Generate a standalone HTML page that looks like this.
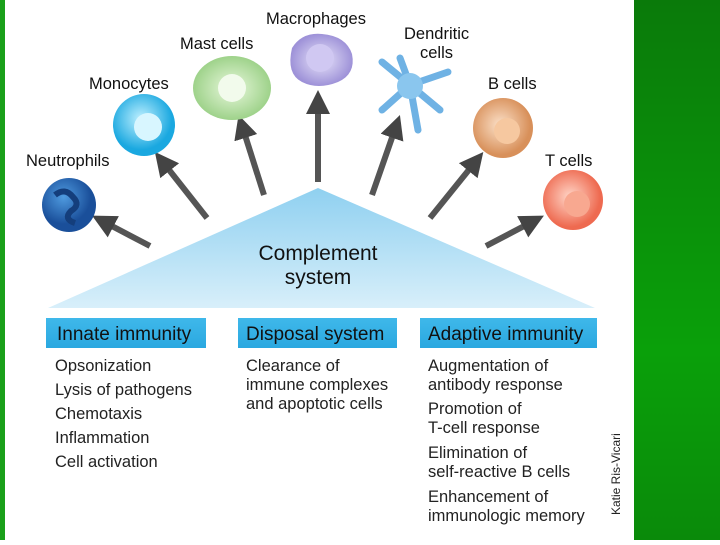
<!DOCTYPE html>
<html><head><style>
body{margin:0;width:720px;height:540px;overflow:hidden;background:#fff;font-family:"Liberation Sans",sans-serif;}
</style></head><body>
<svg width="720" height="540" xmlns="http://www.w3.org/2000/svg" font-family="Liberation Sans, sans-serif">
<defs>
<linearGradient id="tri" x1="0" y1="0" x2="0" y2="1"><stop offset="0" stop-color="#8fd0f0"/><stop offset="1" stop-color="#d8effa"/></linearGradient>
<linearGradient id="box" x1="0" y1="0" x2="0" y2="1"><stop offset="0" stop-color="#3fb8ea"/><stop offset="1" stop-color="#2aa8e0"/></linearGradient>
<linearGradient id="grn" x1="0" y1="0" x2="0" y2="1"><stop offset="0" stop-color="#0a7a0a"/><stop offset="0.65" stop-color="#0aa00a"/><stop offset="1" stop-color="#0a8a0a"/></linearGradient>
<marker id="ah" markerWidth="4" markerHeight="4" refX="1" refY="2" orient="auto"><path d="M0,0 L4,2 L0,4 Z" fill="#444"/></marker>
<radialGradient id="neu" cx="0.4" cy="0.35"><stop offset="0" stop-color="#4f9be0"/><stop offset="1" stop-color="#1a4f9a"/></radialGradient>
<radialGradient id="mono" cx="0.45" cy="0.4"><stop offset="0" stop-color="#bff0ff"/><stop offset="1" stop-color="#1aa8e0"/></radialGradient>
<radialGradient id="mast" cx="0.5" cy="0.5"><stop offset="0" stop-color="#e8f8dc"/><stop offset="1" stop-color="#9ed28a"/></radialGradient>
<radialGradient id="mac" cx="0.5" cy="0.5"><stop offset="0" stop-color="#e8e4fa"/><stop offset="1" stop-color="#9e92d8"/></radialGradient>
<radialGradient id="bc" cx="0.45" cy="0.45"><stop offset="0" stop-color="#fbe0c8"/><stop offset="1" stop-color="#d8905a"/></radialGradient>
<radialGradient id="tc" cx="0.45" cy="0.45"><stop offset="0" stop-color="#ffd6c8"/><stop offset="1" stop-color="#ee6a50"/></radialGradient>
</defs>
<rect x="0" y="0" width="5" height="540" fill="#1aa01a"/>
<rect x="634" y="0" width="86" height="540" fill="url(#grn)"/>
<polygon points="318,188 48,308 595,308" fill="url(#tri)"/>
<text x="318" y="260" font-size="21" text-anchor="middle" fill="#111">Complement</text>
<text x="318" y="284" font-size="21" text-anchor="middle" fill="#111">system</text>
<g stroke="#555" stroke-width="6" marker-end="url(#ah)">
<line x1="150" y1="246" x2="108" y2="224"/>
<line x1="207" y1="218" x2="166" y2="166"/>
<line x1="264" y1="195" x2="244" y2="132"/>
<line x1="318" y1="182" x2="318" y2="108"/>
<line x1="372" y1="195" x2="394" y2="132"/>
<line x1="430" y1="218" x2="472" y2="166"/>
<line x1="486" y1="246" x2="528" y2="224"/>
</g>
<circle cx="69" cy="205" r="27" fill="url(#neu)"/>
<path d="M55,195 q10,-8 18,2 q8,8 -2,14 q-8,8 4,12" stroke="#143e7c" stroke-width="6" fill="none"/>
<circle cx="144" cy="125" r="31" fill="url(#mono)"/>
<circle cx="148" cy="127" r="14" fill="#d8f6ff"/>
<ellipse cx="232" cy="88" rx="39" ry="32" fill="url(#mast)"/>
<circle cx="232" cy="88" r="14" fill="#f2fbec"/>
<path d="M292,48 q10,-16 30,-14 q24,2 30,20 q4,20 -14,28 q-20,8 -36,0 q-16,-8 -10,-34z" fill="url(#mac)"/>
<circle cx="320" cy="58" r="14" fill="#d0c8f2"/>
<g stroke="#6fb2e4" stroke-width="7" stroke-linecap="round"><line x1="410" y1="85" x2="382" y2="62"/><line x1="410" y1="85" x2="448" y2="72"/><line x1="410" y1="85" x2="382" y2="110"/><line x1="410" y1="85" x2="418" y2="130"/><line x1="410" y1="85" x2="440" y2="110"/><line x1="410" y1="85" x2="400" y2="58"/></g>
<circle cx="410" cy="86" r="13" fill="#8ac6ee"/>
<circle cx="503" cy="128" r="30" fill="url(#bc)"/>
<circle cx="507" cy="131" r="13" fill="#f6c8a0"/>
<circle cx="573" cy="200" r="30" fill="url(#tc)"/>
<circle cx="577" cy="204" r="13" fill="#f8a890"/>
<g font-size="16.5" fill="#111">
<text x="266" y="24">Macrophages</text>
<text x="180" y="49">Mast cells</text>
<text x="404" y="39">Dendritic</text>
<text x="420" y="58">cells</text>
<text x="89" y="89">Monocytes</text>
<text x="488" y="89">B cells</text>
<text x="26" y="166">Neutrophils</text>
<text x="545" y="166">T cells</text>
</g>
<rect x="46" y="318" width="160" height="30" fill="url(#box)"/>
<rect x="238" y="318" width="159" height="30" fill="url(#box)"/>
<rect x="420" y="318" width="177" height="30" fill="url(#box)"/>
<g font-size="19" fill="#111">
<text x="57" y="340">Innate immunity</text>
<text x="246" y="340">Disposal system</text>
<text x="428" y="340">Adaptive immunity</text>
</g>
<g font-size="16.5" fill="#222">
<text x="55" y="371">Opsonization</text>
<text x="55" y="395">Lysis of pathogens</text>
<text x="55" y="419">Chemotaxis</text>
<text x="55" y="443">Inflammation</text>
<text x="55" y="467">Cell activation</text>
<text x="246" y="371">Clearance of</text>
<text x="246" y="390">immune complexes</text>
<text x="246" y="409">and apoptotic cells</text>
<text x="428" y="371">Augmentation of</text>
<text x="428" y="390">antibody response</text>
<text x="428" y="414">Promotion of</text>
<text x="428" y="433">T-cell response</text>
<text x="428" y="458">Elimination of</text>
<text x="428" y="477">self-reactive B cells</text>
<text x="428" y="502">Enhancement of</text>
<text x="428" y="521">immunologic memory</text>
</g>
<text transform="translate(620,515) rotate(-90)" font-size="12" fill="#222">Katie Ris-Vicari</text>
</svg>
</body></html>
